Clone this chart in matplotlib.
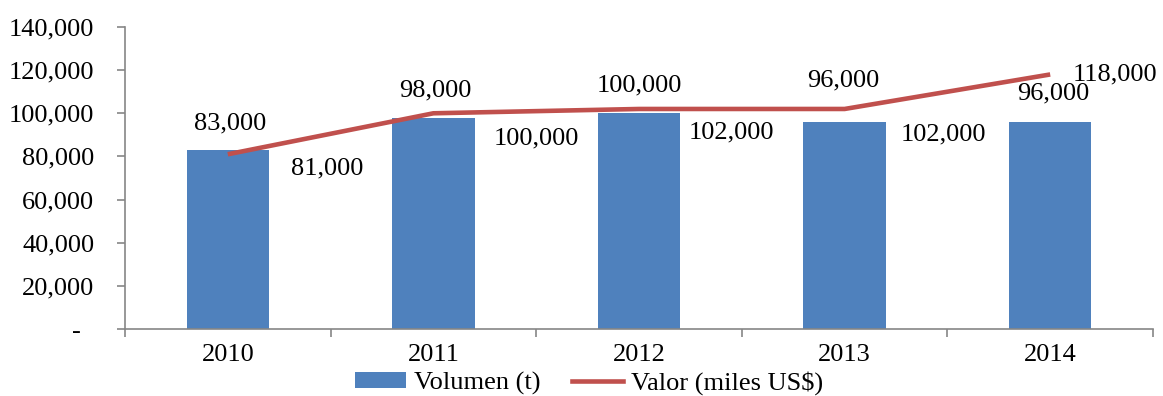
import matplotlib
matplotlib.use("Agg")
import matplotlib.pyplot as plt
from matplotlib.ticker import FuncFormatter, FixedLocator
from matplotlib.patches import Patch
from matplotlib.lines import Line2D

# Data
years = ["2010", "2011", "2012", "2013", "2014"]
volumen = [83000, 98000, 100000, 96000, 96000]
valor = [81000, 100000, 102000, 102000, 118000]

# Label offsets (pixels) relative to each mark
bar_label_offsets = [(2, 27), (2, 27), (0, 28), (-1, 41), (3, 28)]
line_label_offsets = [(99, -14), (103, -25), (92, -23), (99, -25), (65, 0)]

BLUE = "#4F81BD"
RED = "#C0504D"
GRAY = "#868686"
FS = 19

plt.rcParams["font.family"] = ["Liberation Serif", "DejaVu Serif"]
plt.rcParams["font.size"] = FS

fig = plt.figure(figsize=(11.63, 3.96), dpi=100)
ax = fig.add_axes([125 / 1163, 67 / 396, 1028 / 1163, 302 / 396])

x = list(range(len(years)))
ax.bar(x, volumen, width=0.40, color=BLUE, zorder=2)
ax.plot(x, valor, color=RED, linewidth=3.3, solid_capstyle="butt", zorder=3)

ax.set_xlim(-0.5, len(years) - 0.5)
ax.set_ylim(0, 140000)

ax.yaxis.set_major_locator(FixedLocator(range(0, 140001, 20000)))
ax.yaxis.set_major_formatter(
    FuncFormatter(lambda v, p: "-  " if v == 0 else f"{v:,.0f}"))
ax.tick_params(axis="y", direction="out", length=6, width=1.2, color=GRAY,
               pad=16, labelsize=FS)

ax.xaxis.set_major_locator(FixedLocator([i - 0.5 for i in range(len(years) + 1)]))
ax.xaxis.set_minor_locator(FixedLocator(x))
ax.set_xticklabels([])
ax.set_xticklabels(years, minor=True)
ax.tick_params(axis="x", which="major", direction="out", length=6, width=1.2, color=GRAY)
ax.tick_params(axis="x", which="minor", length=0, pad=11, labelsize=FS)

for s in ["top", "right"]:
    ax.spines[s].set_visible(False)
for s in ["left", "bottom"]:
    ax.spines[s].set_color(GRAY)
    ax.spines[s].set_linewidth(1.2)

for i, v in enumerate(volumen):
    dx, dy = bar_label_offsets[i]
    ax.annotate(f"{v:,.0f}", (i, v), xytext=(dx, dy), textcoords="offset pixels",
                ha="center", va="center", fontsize=FS, zorder=4)
for i, v in enumerate(valor):
    dx, dy = line_label_offsets[i]
    ax.annotate(f"{v:,.0f}", (i, v), xytext=(dx, dy), textcoords="offset pixels",
                ha="center", va="center", fontsize=FS, zorder=4)

handles = [Patch(facecolor=BLUE, edgecolor="none"),
           Line2D([0], [0], color=RED, linewidth=3.3)]
fig.legend(handles, ["Volumen (t)", "Valor (miles US$)"], loc="center",
           bbox_to_anchor=(589 / 1163, 1 - 383 / 396), ncol=2, frameon=False,
           fontsize=FS, handlelength=1.95, handleheight=0.55, handletextpad=0.28,
           columnspacing=1.2, borderpad=0)

fig.savefig("out.png", dpi=100)
